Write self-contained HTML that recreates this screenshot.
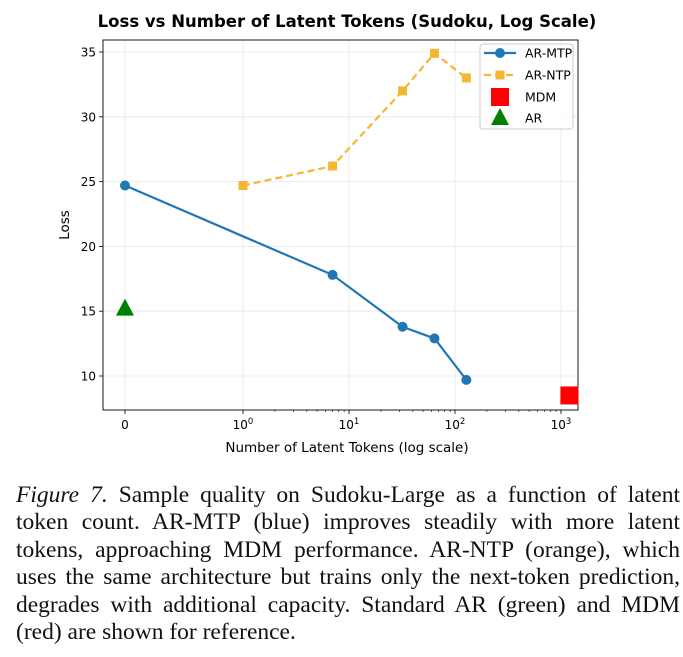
<!DOCTYPE html>
<html><head><meta charset="utf-8"><style>
body{margin:0;background:#fff;width:683px;height:657px;overflow:hidden;position:relative}
svg text{font-family:"DejaVu Sans","Liberation Sans",sans-serif}
#cap{position:absolute;left:16px;top:482px;width:664px;font-family:"Liberation Serif",serif;font-size:23.5px;line-height:27.4px;color:#111}
#cap div{text-align:justify;text-align-last:justify;white-space:nowrap}
#cap div.last{text-align-last:left}
</style></head><body>
<svg id="chart" width="683" height="470" style="position:absolute;left:0;top:0"></svg>
<div id="cap">
<div><i>Figure 7.</i> Sample quality on Sudoku-Large as a function of latent</div>
<div>token count. AR-MTP (blue) improves steadily with more latent</div>
<div>tokens, approaching MDM performance. AR-NTP (orange), which</div>
<div>uses the same architecture but trains only the next-token prediction,</div>
<div>degrades with additional capacity. Standard AR (green) and MDM</div>
<div class="last">(red) are shown for reference.</div>
</div>
<script>
const mtpX=[0,7,32,64,128];
const mtpY=[24.7,17.8,13.8,12.9,9.7];
const ntpX=[1,7,32,64,128];
const ntpY=[24.7,26.2,32.0,34.9,33.0];
const mdmX=[1200], mdmY=[8.5];
const arX=[0], arY=[15.2];
const yTicks=[10,15,20,25,30,35];
const xTicks=[0,1,10,100,1000];
const xTickLabels=["0","10^0","10^1","10^2","10^3"];

const NS="http://www.w3.org/2000/svg";
const svg=document.getElementById('chart');
const L=103,R=578,T=40,B=410;
function sx(v){return v<=1?125+v*118:243+Math.log10(v)*106;}
function sy(v){return 52+(35-v)*12.96;}
function el(t,a,p){const e=document.createElementNS(NS,t);for(const k in a)e.setAttribute(k,a[k]);(p||svg).appendChild(e);return e;}

let t=el('text',{x:347,y:27,'text-anchor':'middle','font-size':16.5,'font-weight':'bold',fill:'#000'});t.textContent='Loss vs Number of Latent Tokens (Sudoku, Log Scale)';


yTicks.forEach(v=>{const y=sy(v);
 const g=el('line',{x1:L,x2:R,y1:y,y2:y,stroke:'#e6e6e6','stroke-width':0.8});
 
 
 el('line',{x1:L-4,x2:L,y1:y,y2:y,stroke:'#000','stroke-width':0.8});
 const tx=el('text',{x:L-7,y:y+4.5,'text-anchor':'end','font-size':12,fill:'#000'});tx.textContent=v;
 
 
});
xTicks.forEach((v,i)=>{const x=sx(v);
 const g=el('line',{x1:x,x2:x,y1:T,y2:B,stroke:'#e6e6e6','stroke-width':0.8});
 
 
 el('line',{x1:x,x2:x,y1:B,y2:B+4,stroke:'#000','stroke-width':0.8});
 const tx=el('text',{x:x,y:B+19,'text-anchor':'middle','font-size':12,fill:'#000'});
 
 
 const lab=xTickLabels[i];
 if(lab.indexOf('^')>0){const p=lab.split('^');tx.textContent=p[0];const s=el('tspan',{'font-size':8.5,dy:-5},tx);s.textContent=p[1];}
 else tx.textContent=lab;
});
[2,3,4,5,6,7,8,9].forEach(m=>[1,10,100].forEach(d=>{const x=sx(m*d);if(x<R)el('line',{x1:x,x2:x,y1:B,y2:B+2,stroke:'#000','stroke-width':0.6});}));
el('rect',{x:L,y:T,width:R-L,height:B-T,fill:'none',stroke:'#000','stroke-width':0.9});
t=el('text',{x:347,y:452,'text-anchor':'middle','font-size':13.5,fill:'#000'});t.textContent='Number of Latent Tokens (log scale)';


t=el('text',{x:0,y:0,'text-anchor':'middle','font-size':13.5,fill:'#000',transform:'translate(69,225) rotate(-90)'});t.textContent='Loss';


function line(xs,ys,col,dash,name){const pts=xs.map((x,i)=>sx(x)+','+sy(ys[i])).join(' ');
 const p=el('polyline',{points:pts,fill:'none',stroke:col,'stroke-width':2.2,'stroke-dasharray':dash||''});
 
 }
line(mtpX,mtpY,'#1f77b4','', 'ar-mtp-line');
mtpX.forEach((x,i)=>{const c=el('circle',{cx:sx(x),cy:sy(mtpY[i]),r:5,fill:'#1f77b4'});
 
 });
line(ntpX,ntpY,'#f5b731','7,4','ar-ntp-line');
ntpX.forEach((x,i)=>{const c=el('rect',{x:sx(x)-4.5,y:sy(ntpY[i])-4.5,width:9,height:9,fill:'#f5b731'});
 
 });
mdmX.forEach((x,i)=>{const c=el('rect',{x:sx(x)-9,y:sy(mdmY[i])-9,width:18,height:18,fill:'#ff0000'});
 
 });
arX.forEach((x,i)=>{const X=sx(x),Y=sy(arY[i]);const c=el('polygon',{points:`${X},${Y-10} ${X-9},${Y+7} ${X+9},${Y+7}`,fill:'#008000'});
 
 });
const lg=el('g',{});


el('rect',{x:480,y:44,width:93,height:85,rx:3,fill:'#fff','fill-opacity':0.85,stroke:'#ccc'},lg);
const items=[['AR-MTP',53],['AR-NTP',75],['MDM',97],['AR',118]];
items.forEach(([n,y],i)=>{
 if(i==0){el('line',{x1:484,x2:516,y1:y,y2:y,stroke:'#1f77b4','stroke-width':2.2},lg);el('circle',{cx:500,cy:y,r:5,fill:'#1f77b4'},lg);}
 if(i==1){el('line',{x1:484,x2:516,y1:y,y2:y,stroke:'#f5b731','stroke-width':2.2,'stroke-dasharray':'7,4'},lg);el('rect',{x:495.5,y:y-4.5,width:9,height:9,fill:'#f5b731'},lg);}
 if(i==2)el('rect',{x:491,y:y-9,width:18,height:18,fill:'#ff0000'},lg);
 if(i==3)el('polygon',{points:`500,${y-10} 491,${y+7} 509,${y+7}`,fill:'#008000'},lg);
 const tx=el('text',{x:525,y:y+4.5,'font-size':12.5,fill:'#000'},lg);tx.textContent=n;
 
 
});
</script>
</body></html>
